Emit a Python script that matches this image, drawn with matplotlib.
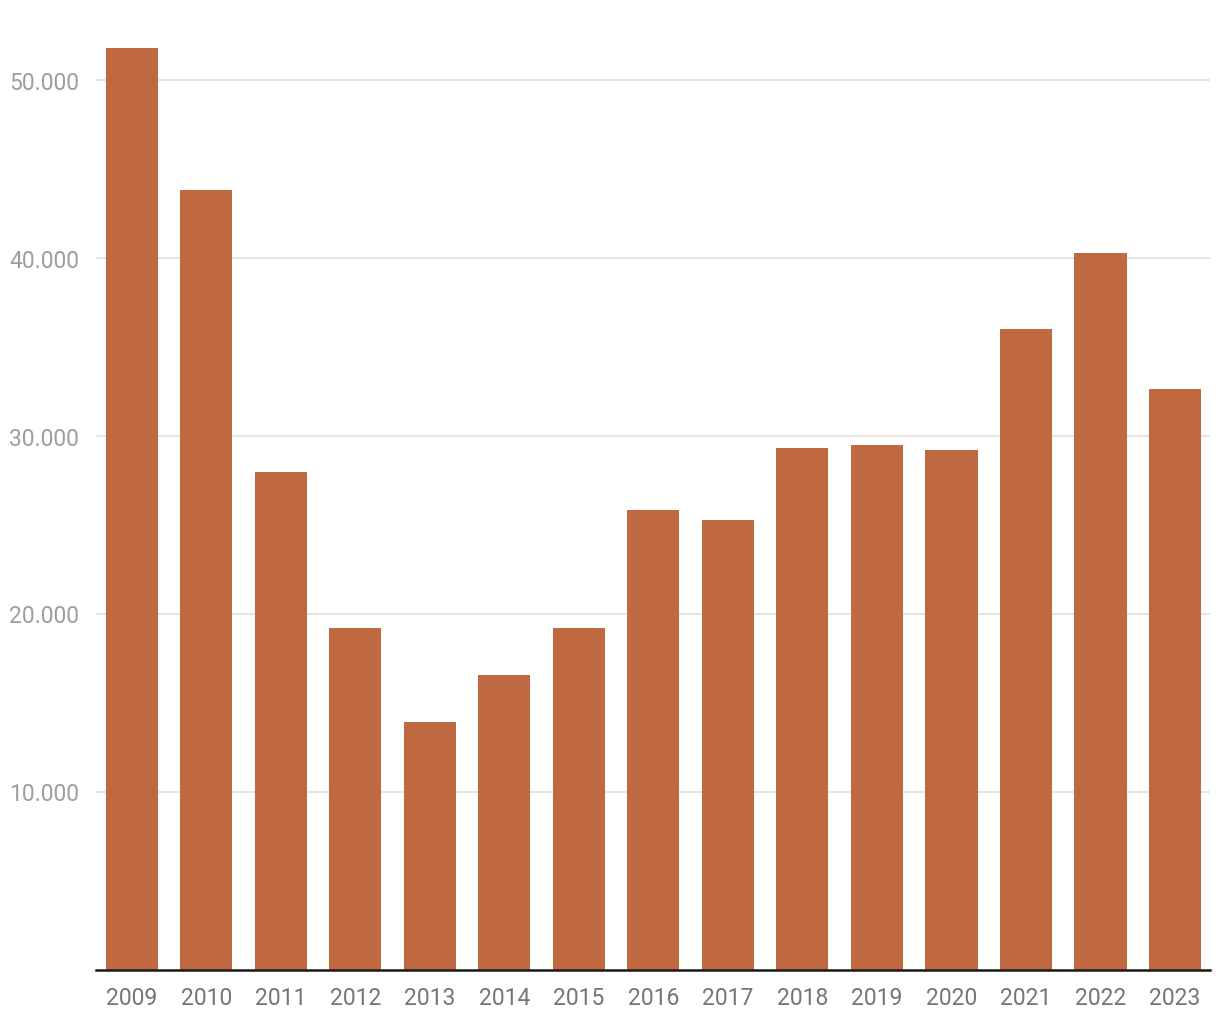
import matplotlib.pyplot as plt

# data
years = ['2009', '2010', '2011', '2012', '2013', '2014', '2015', '2016',
         '2017', '2018', '2019', '2020', '2021', '2022', '2023']
values = [51750, 43770, 27930, 19160, 13880, 16520, 19160, 25790,
          25230, 29270, 29440, 29160, 35960, 40280, 32590]
yticks = [10000, 20000, 30000, 40000, 50000]
ytick_labels = ['10.000', '20.000', '30.000', '40.000', '50.000']

plt.rcParams['font.family'] = ['Roboto', 'DejaVu Sans']

fig = plt.figure(figsize=(12.2, 10.2), dpi=100)
H = 1020
W = 1220
ax = fig.add_axes([96 / W, 1 - 970.5 / H, (1210 - 96) / W, (970.5 - 36) / H])

x = list(range(len(years)))
ax.bar(x, values, width=0.7, color='#c0683f', zorder=2)

ax.set_xlim(-0.48, 14.47)
ax.set_ylim(0, 52500)
ax.set_yticks(yticks)
ax.set_yticklabels(ytick_labels)
ax.set_xticks(x)
ax.set_xticklabels(years)

ax.grid(axis='y', color='#e0e0e0', linewidth=1.2, zorder=0)
for s in ['top', 'right', 'left']:
    ax.spines[s].set_visible(False)
ax.spines['bottom'].set_color('#1a1a1a')
ax.spines['bottom'].set_linewidth(1.8)

ax.tick_params(axis='y', length=0, pad=12, labelsize=16.5, labelcolor='#9e9e9e')
ax.tick_params(axis='x', length=0, pad=12, labelsize=16.5, labelcolor='#757575')

fig.savefig('out.png', dpi=100)
